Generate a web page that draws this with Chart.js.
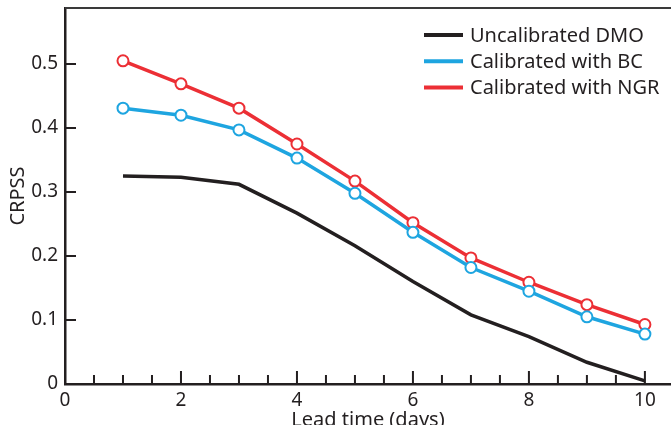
<!DOCTYPE html>
<html lang="en">
<head>
<meta charset="UTF-8">
<title>CRPSS vs lead time</title>
<script src="https://cdn.jsdelivr.net/npm/chart.js@4.4.0/dist/chart.umd.min.js"></script>
<style>
    html, body { margin: 0; padding: 0; background: #fff; overflow: hidden; }
    #wrap { position: relative; width: 671px; height: 434px; }
</style>
</head>
<body>
<div id="wrap"><canvas id="crpss"></canvas></div>
<script>
// lead time in days
var leadDays = [1, 2, 3, 4, 5, 6, 7, 8, 9, 10];
// CRPSS per lead time
var dmo = [0.325, 0.323, 0.312, 0.267, 0.216, 0.160, 0.108, 0.074, 0.034, 0.005];
var bc  = [0.431, 0.420, 0.397, 0.353, 0.298, 0.237, 0.182, 0.145, 0.105, 0.078];
var ngr = [0.505, 0.469, 0.431, 0.375, 0.317, 0.252, 0.197, 0.159, 0.124, 0.093];

var xTicks = [0, 2, 4, 6, 8, 10];
var xMinorTicks = [0.5, 1, 1.5, 2.5, 3, 3.5, 4.5, 5, 5.5, 6.5, 7, 7.5, 8.5, 9, 9.5];
var yTicks = [0, 0.1, 0.2, 0.3, 0.4, 0.5];

var ink = '#231f20';
var FONT = "'Noto Sans', 'Open Sans', sans-serif";

function toXY(ys) {
    return leadDays.map(function (d, i) { return {x: d, y: ys[i]}; });
}

// inward tick marks + top frame line
var frameTicks = {
    id: 'frameTicks',
    afterDraw: function (chart) {
        var c = chart.ctx, a = chart.chartArea;
        var xs = chart.scales.x, ys = chart.scales.y;
        c.save();
        c.strokeStyle = ink;
        c.lineWidth = 2;
        c.beginPath();
        xTicks.forEach(function (v) {
            var px = xs.getPixelForValue(v);
            if (v === 0) return;
            c.moveTo(px, a.bottom); c.lineTo(px, a.bottom - 13);
        });
        xMinorTicks.forEach(function (v) {
            var px = xs.getPixelForValue(v);
            c.moveTo(px, a.bottom); c.lineTo(px, a.bottom - 9);
        });
        yTicks.forEach(function (v) {
            if (v === 0) return;
            var py = ys.getPixelForValue(v);
            c.moveTo(a.left, py); c.lineTo(a.left + 11, py);
        });
        c.stroke();
        c.lineWidth = 2;
        c.strokeStyle = '#3a3a3a';
        c.beginPath();
        c.moveTo(a.left, a.top); c.lineTo(a.right, a.top);
        c.stroke();
        c.restore();
    }
};

// legend drawn top-right inside the plot
var cornerLegend = {
    id: 'cornerLegend',
    afterDraw: function (chart) {
        var c = chart.ctx;
        c.save();
        c.font = '20px ' + FONT;
        c.textBaseline = 'middle';
        c.fillStyle = ink;
        chart.data.datasets.forEach(function (ds, i) {
            var y = 35 + i * 26.3;
            c.strokeStyle = ds.borderColor;
            c.lineWidth = 4;
            c.beginPath();
            c.moveTo(424, y); c.lineTo(463, y);
            c.stroke();
            c.fillText(ds.label, 470, y + 1);
        });
        c.restore();
    }
};

new Chart(document.getElementById('crpss').getContext('2d'), {
    type: 'line',
    data: {
        datasets: [
            {
                label: 'Uncalibrated DMO',
                data: toXY(dmo),
                borderColor: ink,
                borderWidth: 3.5,
                pointRadius: 0
            },
            {
                label: 'Calibrated with BC',
                data: toXY(bc),
                borderColor: '#1ea5e0',
                borderWidth: 3.5,
                pointRadius: 5.5,
                pointBorderWidth: 2,
                pointBackgroundColor: '#fff',
                pointBorderColor: '#1ea5e0'
            },
            {
                label: 'Calibrated with NGR',
                data: toXY(ngr),
                borderColor: '#ec2f35',
                borderWidth: 3.5,
                pointRadius: 5.5,
                pointBorderWidth: 2,
                pointBackgroundColor: '#fff',
                pointBorderColor: '#ec2f35'
            }
        ]
    },
    options: {
        responsive: true,
        maintainAspectRatio: false,
        animation: false,
        layout: { autoPadding: false, padding: { top: 8, right: 0, left: 0, bottom: 0 } },
        plugins: {
            legend: { display: false },
            tooltip: { enabled: false }
        },
        scales: {
            x: {
                type: 'linear',
                min: 0,
                max: 10.45,
                afterBuildTicks: function (s) { s.ticks = xTicks.map(function (v) { return {value: v}; }); },
                afterFit: function (s) { s.height = 50; s.paddingLeft = 0; s.paddingRight = 0; },
                grid: { display: false, drawTicks: false },
                border: { display: true, color: ink, width: 2.5 },
                ticks: {
                    autoSkip: false,
                    maxRotation: 0,
                    padding: 5,
                    color: ink,
                    font: { family: FONT, size: 19 }
                },
                title: {
                    display: true,
                    text: 'Lead time (days)',
                    color: ink,
                    font: { family: FONT, size: 20 },
                    padding: { top: 0, bottom: 2 }
                }
            },
            y: {
                min: 0,
                max: 0.5875,
                afterBuildTicks: function (s) { s.ticks = yTicks.map(function (v) { return {value: v}; }); },
                afterFit: function (s) { s.width = 65; s.paddingTop = 0; s.paddingBottom = 0; },
                grid: { display: false, drawTicks: false },
                border: { display: true, color: ink, width: 2.5 },
                ticks: {
                    autoSkip: false,
                    padding: 7,
                    color: ink,
                    font: { family: FONT, size: 19 },
                    callback: function (v) { return v === 0 ? '0' : v.toFixed(1); }
                },
                title: {
                    display: true,
                    text: 'CRPSS',
                    color: ink,
                    font: { family: FONT, size: 20 },
                    padding: { top: 6, bottom: 0 }
                }
            }
        }
    },
    plugins: [frameTicks, cornerLegend]
});
</script>
</body>
</html>
